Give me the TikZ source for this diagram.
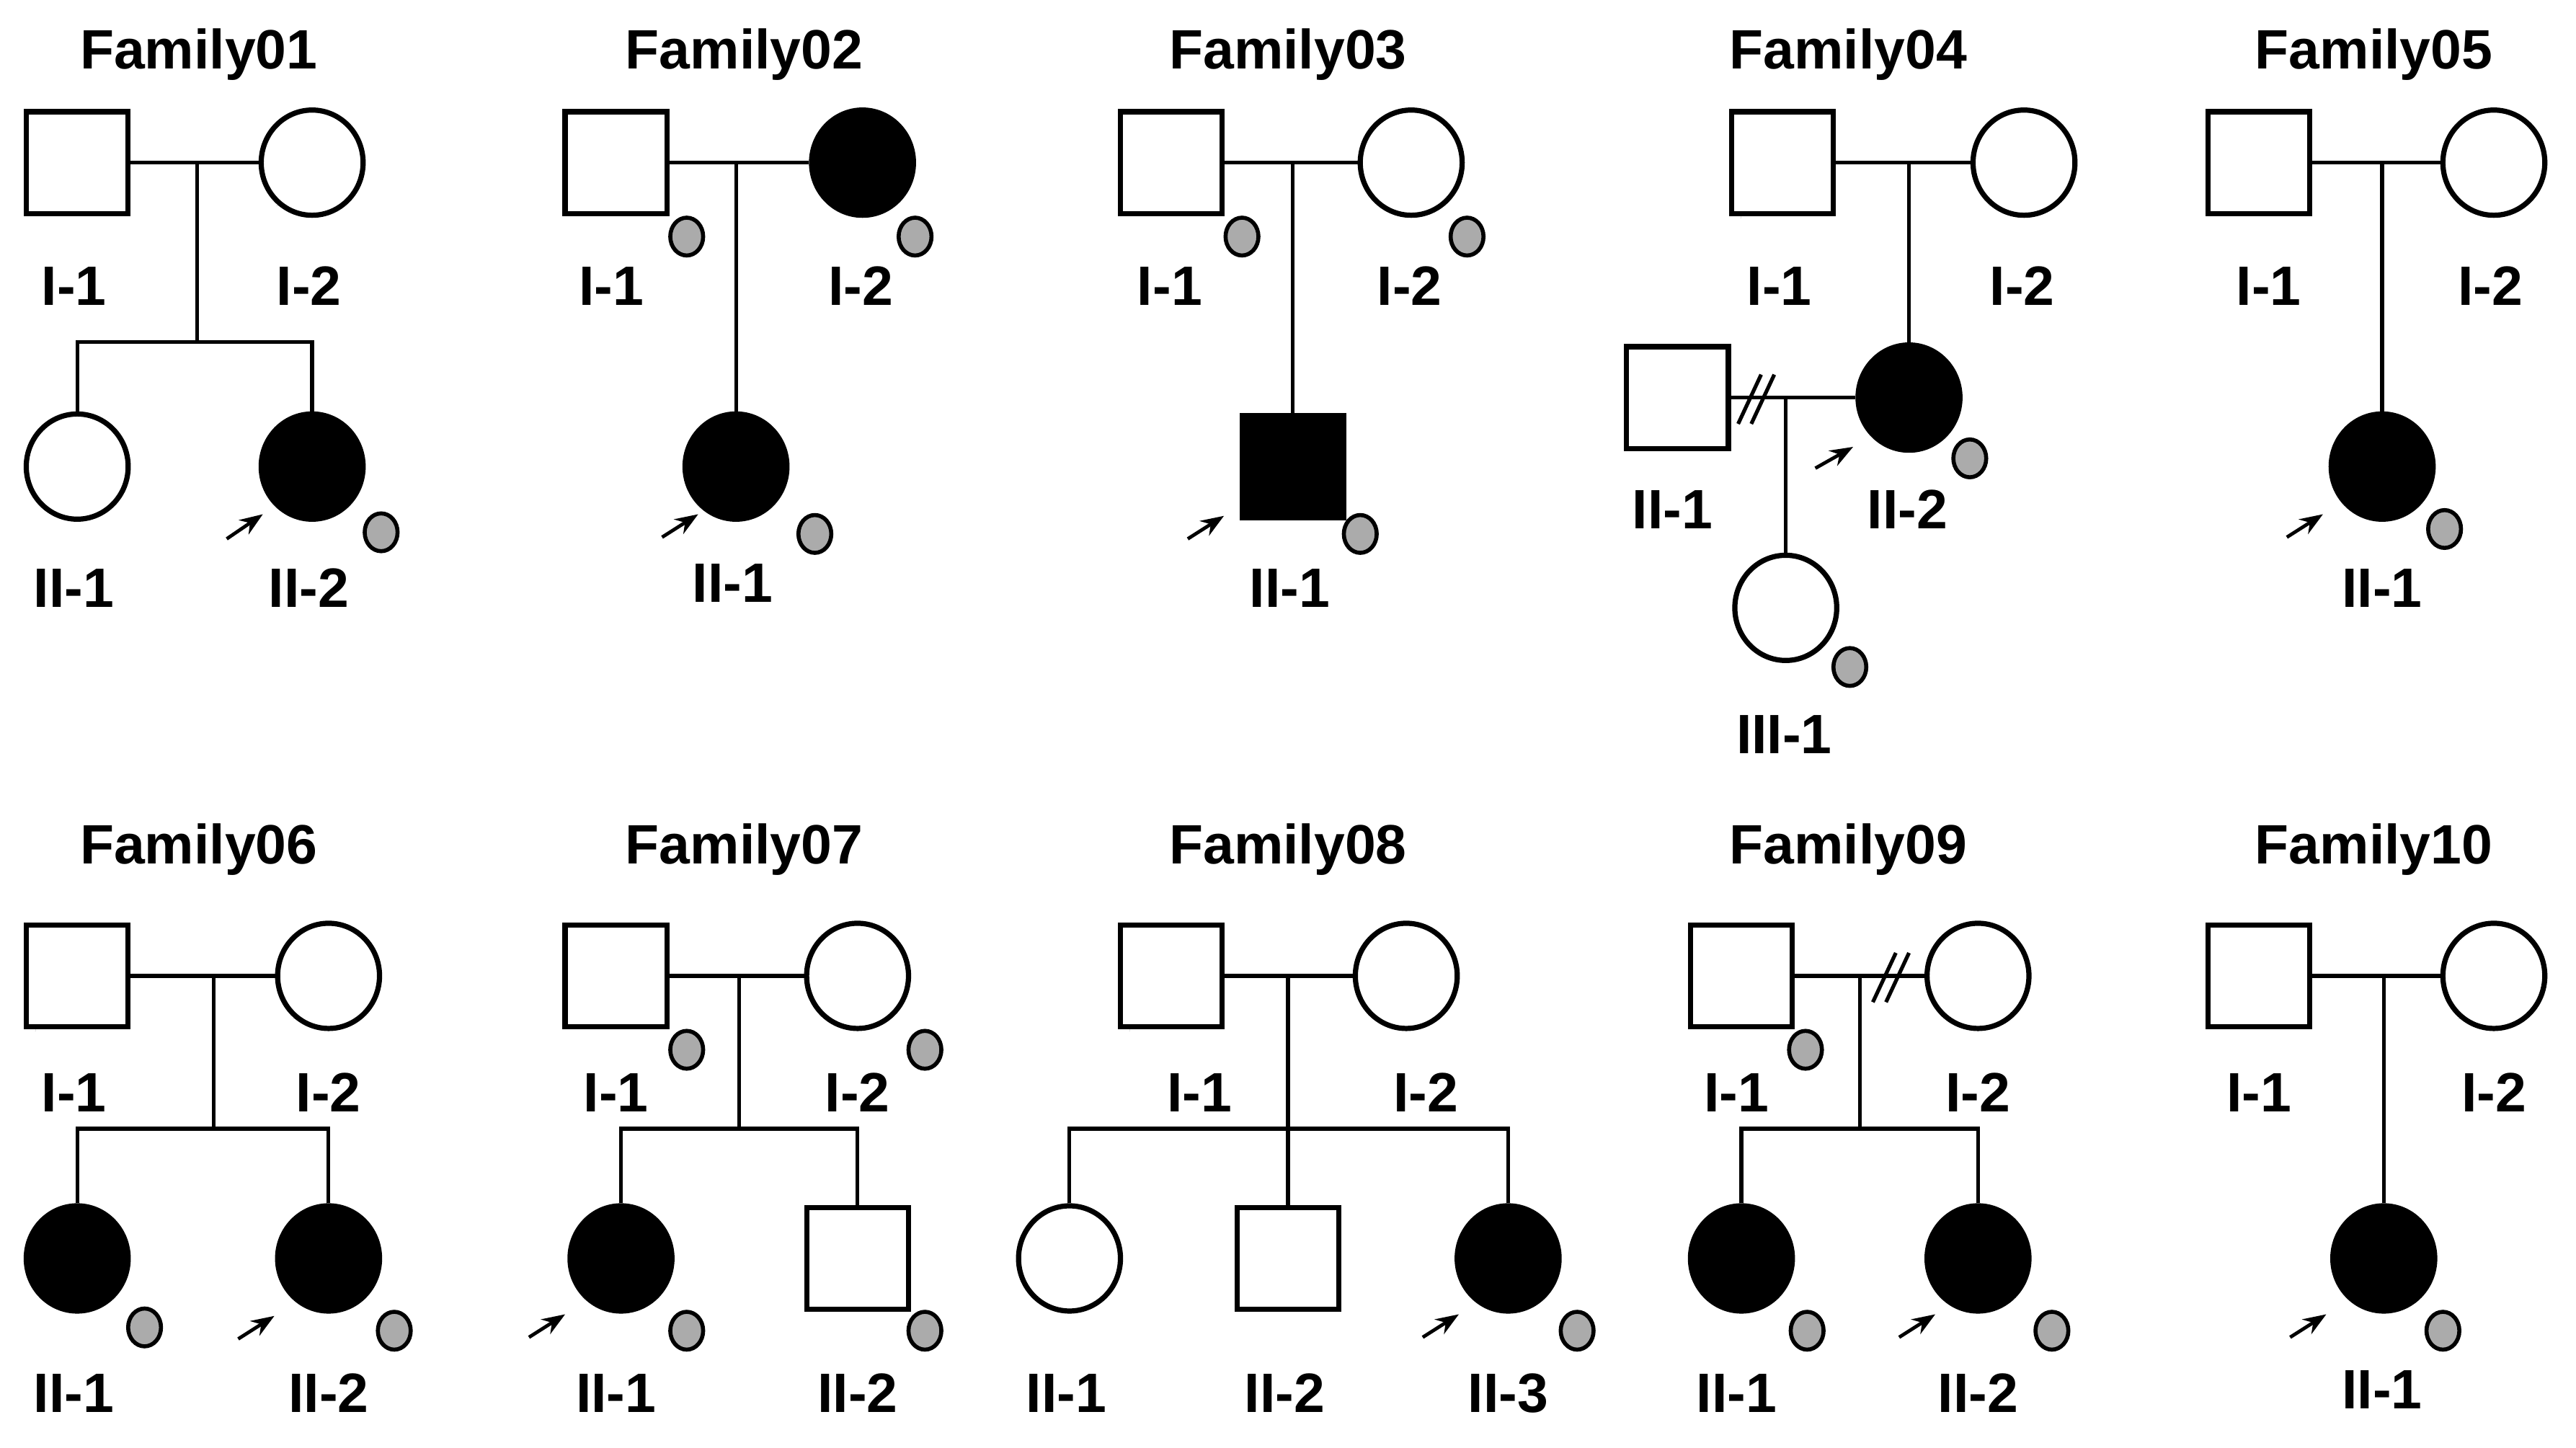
\documentclass[tikz,border=0pt]{standalone}
\usepackage{fontspec}
\setmainfont{Liberation Sans}
\usetikzlibrary{shapes.geometric,arrows.meta}
\tikzset{
 ind/.style={draw,line width=0.9pt,inner sep=0pt},
 male/.style={ind,rectangle,minimum size=0.62cm},
 fem/.style={ind,ellipse,minimum width=0.62cm,minimum height=0.64cm},
 aff/.style={fill=black},
 lnk/.style={line width=0.65pt},
 gdot/.style={draw,ellipse,fill=black!33,line width=0.7pt,minimum width=0.2cm,minimum height=0.23cm,inner sep=0pt},
 arr/.style={line width=0.6pt,-{Stealth[length=4pt,width=3pt]}},
 lab/.style={font=\fontsize{9.6}{11}\selectfont\bfseries,inner sep=0pt},
 slash/.style={line width=0.7pt}
}
\newcommand\dcs[1]{\draw[slash] ([shift={(-37,47)}]#1) -- ([shift={(36,-46)}]#1);}
\begin{document}
\begin{tikzpicture}[x=0.01cm,y=-0.01cm]
\useasboundingbox (0,0) rectangle (1568,881);
% ---------- Family01
\node[lab] (t1) at (121,33) {Family01};
\node[male] (a1) at (47,99) {};
\node[fem] (b1) at (190,99) {}; \dcs{b1}
\draw[lnk] (a1) -- (b1);
\coordinate (m1) at (120,99); \coordinate (s1) at (120,208);
\draw[lnk] (m1) -- (s1);
\node[fem] (c11) at (47,284) {};
\node[fem,aff] (c12) at (190,284) {};
\draw[lnk] (c11.north) |- (s1) -| (c12.north);
\coordinate (p1a) at (138,328); \coordinate (p1b) at (160,313);
\draw[arr] (p1a) -- (p1b);
\node[gdot] (d12) at (232,324) {};
\node[lab] at (45,174) {I-1}; \node[lab] at (188,174) {I-2};
\node[lab] at (45,358) {II-1}; \node[lab] at (188,358) {II-2};
% ---------- Family02
\node[lab] (t2) at (453,33) {Family02};
\node[male] (a2) at (375,99) {};
\node[fem,aff] (b2) at (525,99) {};
\draw[lnk] (a2) -- (b2);
\node[gdot] at (418,144) {}; \node[gdot] at (557,144) {};
\coordinate (m2) at (448,99);
\node[fem,aff] (c21) at (448,284) {};
\draw[lnk] (m2) -- (c21);
\coordinate (p2a) at (403,327); \coordinate (p2b) at (425,313);
\draw[arr] (p2a) -- (p2b);
\node[gdot] at (496,325) {};
\node[lab] at (372,174) {I-1}; \node[lab] at (524,174) {I-2};
\node[lab] at (446,355) {II-1};
% ---------- Family03
\node[lab] (t3) at (784,33) {Family03};
\node[male] (a3) at (713,99) {};
\node[fem] (b3) at (859,99) {};
\draw[lnk] (a3) -- (b3);
\node[gdot] at (756,144) {}; \node[gdot] at (893,144) {};
\coordinate (m3) at (787,99);
\node[male,aff] (c31) at (787,284) {};
\draw[lnk] (m3) -- (c31);
\coordinate (p3a) at (723,328); \coordinate (p3b) at (745,314);
\draw[arr] (p3a) -- (p3b);
\node[gdot] at (828,325) {};
\node[lab] at (712,174) {I-1}; \node[lab] at (858,174) {I-2};
\node[lab] at (785,358) {II-1};
% ---------- Family04
\node[lab] (t4) at (1125,33) {Family04};
\node[male] (a4) at (1085,99) {}; \dcs{a4}
\node[fem] (b4) at (1232,99) {}; \dcs{b4}
\draw[lnk] (a4) -- (b4);
\coordinate (m4) at (1162,99);
\node[fem,aff] (c42) at (1162,242) {};
\draw[lnk] (m4) -- (c42);
\node[male] (c41) at (1021,242) {};
\draw[lnk] (c41) -- (c42);
\coordinate (q1) at (1058,258); \coordinate (q2) at (1072,228);
\coordinate (q3) at (1066,258); \coordinate (q4) at (1080,228);
\draw[lnk] (q1) -- (q2); \draw[lnk] (q3) -- (q4);
\coordinate (m4b) at (1087,242);
\node[fem] (g41) at (1087,370) {};
\draw[lnk] (m4b) -- (g41);
\node[gdot] at (1126,406) {}; \node[gdot] at (1199,279) {};
\coordinate (p4a) at (1105,285); \coordinate (p4b) at (1128,272);
\draw[arr] (p4a) -- (p4b);
\node[lab] at (1083,174) {I-1}; \node[lab] at (1231,174) {I-2};
\node[lab] at (1018,310) {II-1}; \node[lab] at (1161,310) {II-2};
\node[lab] at (1086,447) {III-1};
% ---------- Family05
\node[lab] (t5) at (1445,33) {Family05};
\node[male] (a5) at (1375,99) {};
\node[fem] (b5) at (1518,99) {};
\draw[lnk] (a5) -- (b5);
\coordinate (m5) at (1450,99);
\node[fem,aff] (c51) at (1450,284) {};
\draw[lnk] (m5) -- (c51);
\coordinate (p5a) at (1392,327); \coordinate (p5b) at (1414,313);
\draw[arr] (p5a) -- (p5b);
\node[gdot] at (1488,322) {};
\node[lab] at (1381,174) {I-1}; \node[lab] at (1516,174) {I-2};
\node[lab] at (1450,358) {II-1};
% ---------- Family06
\node[lab] (t6) at (121,517) {Family06};
\node[male] (a6) at (47,594) {}; \dcs{a6}
\node[fem] (b6) at (200,594) {}; \dcs{b6}
\draw[lnk] (a6) -- (b6);
\coordinate (m6) at (130,594); \coordinate (s6) at (130,687);
\draw[lnk] (m6) -- (s6);
\node[fem,aff] (c61) at (47,766) {};
\node[fem,aff] (c62) at (200,766) {};
\draw[lnk] (c61.north) |- (s6) -| (c62.north);
\node[gdot] at (88,808) {}; \node[gdot] at (240,810) {};
\coordinate (p6a) at (145,815); \coordinate (p6b) at (167,801);
\draw[arr] (p6a) -- (p6b);
\node[lab] at (45,665) {I-1}; \node[lab] at (200,665) {I-2};
\node[lab] at (45,848) {II-1}; \node[lab] at (200,848) {II-2};
% ---------- Family07
\node[lab] (t7) at (453,517) {Family07};
\node[male] (a7) at (375,594) {};
\node[fem] (b7) at (522,594) {};
\draw[lnk] (a7) -- (b7);
\node[gdot] at (418,639) {}; \node[gdot] at (563,639) {};
\coordinate (m7) at (450,594); \coordinate (s7) at (450,687);
\draw[lnk] (m7) -- (s7);
\node[fem,aff] (c71) at (378,766) {};
\node[male] (c72) at (522,766) {};
\draw[lnk] (c71.north) |- (s7) -| (c72.north);
\node[gdot] at (418,810) {}; \node[gdot] at (563,810) {};
\coordinate (p7a) at (322,814); \coordinate (p7b) at (344,800);
\draw[arr] (p7a) -- (p7b);
\node[lab] at (375,665) {I-1}; \node[lab] at (522,665) {I-2};
\node[lab] at (375,848) {II-1}; \node[lab] at (522,848) {II-2};
% ---------- Family08
\node[lab] (t8) at (784,517) {Family08};
\node[male] (a8) at (713,594) {}; \dcs{a8}
\node[fem] (b8) at (856,594) {};
\draw[lnk] (a8) -- (b8);
\coordinate (m8) at (784,594); \coordinate (s8) at (784,687);
\draw[lnk] (m8) -- (s8);
\node[fem] (c81) at (651,766) {};
\node[male] (c82) at (784,766) {};
\node[fem,aff] (c83) at (918,766) {};
\draw[lnk] (c81.north) |- (s8) -| (c83.north);
\draw[lnk] (s8) -- (c82);
\node[gdot] at (960,810) {};
\coordinate (p8a) at (866,814); \coordinate (p8b) at (888,800);
\draw[arr] (p8a) -- (p8b);
\node[lab] at (730,665) {I-1}; \node[lab] at (868,665) {I-2};
\node[lab] at (649,848) {II-1}; \node[lab] at (782,848) {II-2};
\node[lab] at (918,848) {II-3};
% ---------- Family09
\node[lab] (t9) at (1125,517) {Family09};
\node[male] (a9) at (1060,594) {};
\node[fem] (b9) at (1204,594) {};
\draw[lnk] (a9) -- (b9);
\coordinate (r1) at (1140,610); \coordinate (r2) at (1154,580);
\coordinate (r3) at (1148,610); \coordinate (r4) at (1162,580);
\draw[lnk] (r1) -- (r2); \draw[lnk] (r3) -- (r4);
\node[gdot] at (1099,639) {};
\coordinate (m9) at (1132,594); \coordinate (s9) at (1132,687);
\draw[lnk] (m9) -- (s9);
\node[fem,aff] (c91) at (1060,766) {};
\node[fem,aff] (c92) at (1204,766) {};
\draw[lnk] (c91.north) |- (s9) -| (c92.north);
\node[gdot] at (1100,810) {}; \node[gdot] at (1249,810) {};
\coordinate (p9a) at (1156,814); \coordinate (p9b) at (1178,800);
\draw[arr] (p9a) -- (p9b);
\node[lab] at (1057,665) {I-1}; \node[lab] at (1204,665) {I-2};
\node[lab] at (1057,848) {II-1}; \node[lab] at (1204,848) {II-2};
% ---------- Family10
\node[lab] (t10) at (1445,517) {Family10};
\node[male] (a10) at (1375,594) {};
\node[fem] (b10) at (1518,594) {}; \dcs{b10}
\draw[lnk] (a10) -- (b10);
\coordinate (m10) at (1451,594);
\node[fem,aff] (c101) at (1451,766) {};
\draw[lnk] (m10) -- (c101);
\node[gdot] at (1487,810) {};
\coordinate (p10a) at (1394,814); \coordinate (p10b) at (1416,800);
\draw[arr] (p10a) -- (p10b);
\node[lab] at (1375,665) {I-1}; \node[lab] at (1518,665) {I-2};
\node[lab] at (1450,846) {II-1};
\end{tikzpicture}
\end{document}
